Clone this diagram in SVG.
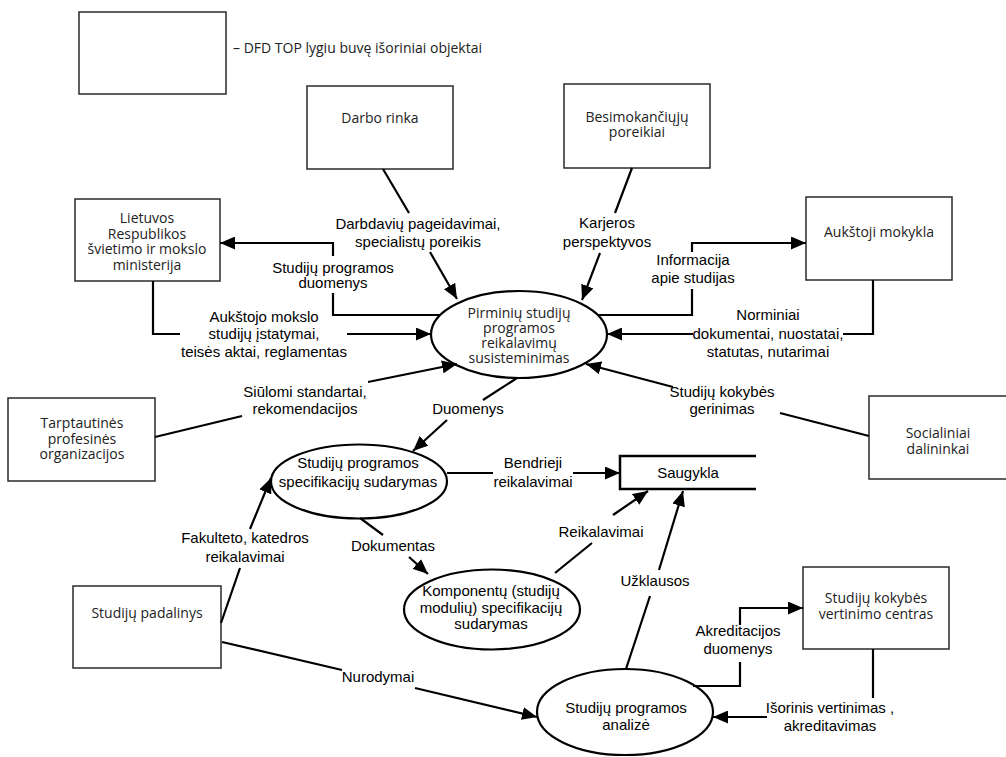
<svg xmlns="http://www.w3.org/2000/svg" width="1006" height="757" viewBox="0 0 1006 757">
<style>
.box{fill:#fff;stroke:#2a2a2a;stroke-width:1.5}
.proc{fill:#fff;stroke:#000;stroke-width:2.2}
.bt{font-family:"Open Sans","Noto Sans",sans-serif;font-size:14px;fill:#222;text-anchor:middle}
.pt{font-family:"Liberation Sans",Arial,sans-serif;font-size:15px;fill:#000;text-anchor:middle}
.lbl{font-family:"Liberation Sans",Arial,sans-serif;font-size:15px;fill:#000;text-anchor:middle}
.c{fill:none;stroke:#000;stroke-width:2.2}
.a{marker-end:url(#ah)}
</style>
<defs>
<marker id="ah" markerUnits="userSpaceOnUse" markerWidth="15" markerHeight="13" refX="15" refY="6.5" orient="auto">
<path d="M0,0 L15,6.5 L0,13 z" fill="#000"/>
</marker>
</defs>
<rect width="1006" height="757" fill="#fff"/>

<g id="legend">
<rect class="box" x="79" y="12" width="147" height="82"/>
<text class="bt" x="233" y="53" style="text-anchor:start">– DFD TOP lygiu buvę išoriniai objektai</text>
</g>

<g id="darbo-rinka">
<rect class="box" x="307" y="86" width="146" height="83"/>
<text class="bt" x="380" y="123">Darbo rinka</text>
</g>
<g id="besimokanciuju">
<rect class="box" x="564" y="84" width="146" height="84"/>
<text class="bt" x="637" y="122">Besimokančiųjų</text>
<text class="bt" x="637" y="137">poreikiai</text>
</g>
<g id="aukstoji-mokykla">
<rect class="box" x="806" y="197" width="146" height="83"/>
<text class="bt" x="879" y="237">Aukštoji mokykla</text>
</g>
<g id="ministerija">
<rect class="box" x="75" y="199" width="145" height="82"/>
<text class="bt" x="147" y="223">Lietuvos</text>
<text class="bt" x="147" y="238.5">Respublikos</text>
<text class="bt" x="147" y="254">švietimo ir mokslo</text>
<text class="bt" x="147" y="269.5">ministerija</text>
</g>
<g id="tarptautines">
<rect class="box" x="8" y="398" width="147" height="83"/>
<text class="bt" x="82" y="428">Tarptautinės</text>
<text class="bt" x="82" y="444">profesinės</text>
<text class="bt" x="82" y="459">organizacijos</text>
</g>
<g id="socialiniai">
<rect class="box" x="869" y="396" width="150" height="83"/>
<text class="bt" x="938" y="438">Socialiniai</text>
<text class="bt" x="938" y="454">dalininkai</text>
</g>
<g id="padalinys">
<rect class="box" x="73" y="586" width="148" height="82"/>
<text class="bt" x="147" y="618">Studijų padalinys</text>
</g>
<g id="centras">
<rect class="box" x="803" y="567" width="146" height="82"/>
<text class="bt" x="876" y="603">Studijų kokybės</text>
<text class="bt" x="876" y="619">vertinimo centras</text>
</g>

<g id="p-pirminiu">
<ellipse class="proc" cx="519" cy="334.5" rx="88" ry="43.5"/>
<text class="bt" x="519" y="318">Pirminių studijų</text>
<text class="bt" x="519" y="333">programos</text>
<text class="bt" x="519" y="348">reikalavimų</text>
<text class="bt" x="519" y="363">susisteminimas</text>
</g>
<g id="p-specifikaciju">
<ellipse class="proc" cx="359" cy="481.5" rx="88" ry="37"/>
<text class="pt" x="358" y="468">Studijų programos</text>
<text class="pt" x="358" y="487">specifikacijų sudarymas</text>
</g>
<g id="p-komponentu">
<ellipse class="proc" cx="492" cy="609.5" rx="88" ry="40"/>
<text class="pt" x="491" y="596">Komponentų (studijų</text>
<text class="pt" x="491" y="613">modulių) specifikacijų</text>
<text class="pt" x="491" y="629">sudarymas</text>
</g>
<g id="p-analize">
<ellipse class="proc" cx="625" cy="712" rx="88" ry="43"/>
<text class="pt" x="626" y="713">Studijų programos</text>
<text class="pt" x="626" y="730">analizė</text>
</g>
<g id="saugykla">
<path d="M756,456 L620,456 L620,489 L756,489" fill="none" stroke="#000" stroke-width="2.5"/>
<text class="pt" x="688" y="478">Saugykla</text>
</g>

<g id="connectors">
<line class="c" x1="383" y1="169" x2="409" y2="213"/>
<line class="c a" x1="430" y1="252" x2="457" y2="299"/>
<line class="c" x1="632" y1="168" x2="615" y2="213"/>
<line class="c a" x1="600" y1="253" x2="582" y2="300"/>
<polyline class="c" points="440,315 333,315 333,293"/>
<polyline class="c a" points="333,256 333,243 220,243"/>
<polyline class="c" points="153,281 153,334 180,334"/>
<line class="c a" x1="347" y1="334" x2="431" y2="334"/>
<line class="c" x1="155" y1="437" x2="242" y2="416"/>
<line class="c a" x1="368" y1="382" x2="457" y2="364"/>
<line class="c" x1="517" y1="378" x2="483" y2="400"/>
<line class="c a" x1="447" y1="420" x2="413" y2="451"/>
<line class="c" x1="869" y1="436" x2="780" y2="413"/>
<line class="c a" x1="673" y1="387" x2="586" y2="364"/>
<polyline class="c" points="598,315 692,315 692,289"/>
<polyline class="c a" points="692,252 692,243 806,243"/>
<polyline class="c" points="873,280 873,334 843,334"/>
<line class="c a" x1="693" y1="334" x2="607" y2="334"/>
<line class="c" x1="447" y1="473" x2="493" y2="473"/>
<line class="c a" x1="573" y1="473" x2="620" y2="473"/>
<line class="c" x1="360" y1="518" x2="383" y2="535"/>
<line class="c a" x1="409" y1="557" x2="428" y2="574"/>
<line class="c" x1="555" y1="573" x2="592" y2="543"/>
<line class="c a" x1="613" y1="515" x2="648" y2="491"/>
<line class="c" x1="626" y1="669" x2="650" y2="596"/>
<line class="c a" x1="659" y1="570" x2="683" y2="491"/>
<line class="c" x1="221" y1="623" x2="240" y2="568"/>
<line class="c a" x1="250" y1="529" x2="271" y2="478"/>
<line class="c" x1="222" y1="642" x2="342" y2="670"/>
<line class="c a" x1="415" y1="688" x2="537" y2="717"/>
<polyline class="c" points="693,686 740,686 740,662"/>
<polyline class="c a" points="740,625 740,608 803,608"/>
<polyline class="c" points="873,649 873,698"/>
<line class="c a" x1="767" y1="717" x2="713" y2="717"/>

<text class="lbl" x="418" y="229">Darbdavių pageidavimai,</text>
<text class="lbl" x="418" y="247">specialistų poreikis</text>
<text class="lbl" x="607" y="228">Karjeros</text>
<text class="lbl" x="607" y="247">perspektyvos</text>
<text class="lbl" x="333" y="273">Studijų programos</text>
<text class="lbl" x="333" y="288">duomenys</text>
<text class="lbl" x="264" y="322">Aukštojo mokslo</text>
<text class="lbl" x="264" y="339">studijų įstatymai,</text>
<text class="lbl" x="264" y="357">teisės aktai, reglamentas</text>
<text class="lbl" x="305" y="397">Siūlomi standartai,</text>
<text class="lbl" x="305" y="414">rekomendacijos</text>
<text class="lbl" x="468" y="414">Duomenys</text>
<text class="lbl" x="722" y="397">Studijų kokybės</text>
<text class="lbl" x="722" y="414">gerinimas</text>
<text class="lbl" x="693" y="265">Informacija</text>
<text class="lbl" x="693" y="283">apie studijas</text>
<text class="lbl" x="768" y="320">Norminiai</text>
<text class="lbl" x="768" y="339">dokumentai, nuostatai,</text>
<text class="lbl" x="768" y="357">statutas, nutarimai</text>
<text class="lbl" x="533" y="468">Bendrieji</text>
<text class="lbl" x="533" y="487">reikalavimai</text>
<text class="lbl" x="393" y="551">Dokumentas</text>
<text class="lbl" x="601" y="537">Reikalavimai</text>
<text class="lbl" x="655" y="586">Užklausos</text>
<text class="lbl" x="245" y="543">Fakulteto, katedros</text>
<text class="lbl" x="245" y="562">reikalavimai</text>
<text class="lbl" x="378" y="682">Nurodymai</text>
<text class="lbl" x="738" y="636">Akreditacijos</text>
<text class="lbl" x="738" y="654">duomenys</text>
<text class="lbl" x="830" y="713">Išorinis vertinimas ,</text>
<text class="lbl" x="830" y="731">akreditavimas</text>
</g>
</svg>
